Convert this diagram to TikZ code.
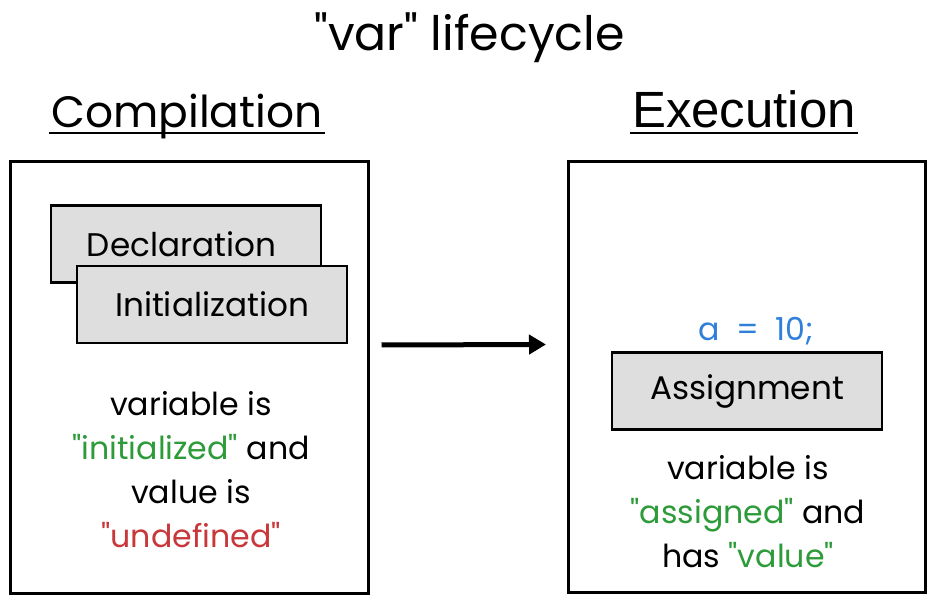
\documentclass[tikz,border=0pt]{standalone}
\usepackage{fontspec}
\setmainfont{Poppins}[Ligatures=TeXOff]
\newfontfamily\headfont{Liberation Sans}
\usetikzlibrary{arrows.meta}
\definecolor{okgreen}{HTML}{2E9B3A}
\definecolor{badred}{HTML}{C8383A}
\definecolor{codeblue}{HTML}{2F7FDB}
\definecolor{boxgray}{HTML}{DEDEDE}
\tikzset{
  frame/.style={draw, line width=0.6mm, minimum width=71.4mm, minimum height=86.2mm},
  stepbox/.style={draw, fill=boxgray, line width=0.5mm, minimum width=54mm, minimum height=15.4mm,
    font=\fontsize{18.6}{22}\selectfont},
  heading/.style={inner sep=0pt, font=\fontsize{25}{30}\selectfont},
  note/.style={align=center, font=\fontsize{18}{25}\selectfont},
  flow/.style={line width=1mm, -{Triangle[length=3.4mm, width=3.8mm]}},
  underline/.style={line width=0.45mm}
}
\begin{document}
\begin{tikzpicture}[x=0.2mm, y=-0.2mm]
  \useasboundingbox (0,0) rectangle (939,600);
  % headings
  \node[heading, anchor=base, font=\fontsize{27}{32}\selectfont] (title) at (469.5,51) {"var" lifecycle};
  \node[heading, anchor=base] (compHead) at (187,128) {Compilation};
  \node[heading, anchor=base, font=\headfont\fontsize{29}{34}\selectfont] (execHead) at (744,128) {Execution};
  \draw[underline] ([xshift=-0.4mm,yshift=-1mm]compHead.base west) -- ([xshift=0.4mm,yshift=-1mm]compHead.base east);
  \draw[underline] ([xshift=-0.4mm,yshift=-1mm]execHead.base west) -- ([xshift=0.4mm,yshift=-1mm]execHead.base east);
  % frames
  \node[frame] (compFrame) at (189.5,377.5) {};
  \node[frame] (execFrame) at (747,377) {};
  % compilation steps
  \node[stepbox, text width=39.6mm, inner xsep=7.2mm, align=left] (decl) at (186,244) {Declaration};
  \node[stepbox] (init) at (212,304.5) {Initialization};
  \node[note] (compNote) at (191,470) {variable is\\
    \textcolor{okgreen}{"initialized"} and\\
    value is\\
    \textcolor{badred}{"undefined"}};
  % execution step
  \node[font=\fontsize{18}{22}\selectfont, text=codeblue] (code) at (756,331) {a\hspace{4.5pt} = \hspace{4.5pt}10;};
  \node[stepbox] (assign) at (747,391) {Assignment};
  \node[note] (execNote) at (748,512) {variable is\\
    \textcolor{okgreen}{"assigned"} and\\
    has \textcolor{okgreen}{"value"}};
  % compilation -> execution
  \draw[flow] ([xshift=2.4mm,yshift=6.5mm]compFrame.east) -- ([xshift=-4.2mm,yshift=6.5mm]execFrame.west);
\end{tikzpicture}
\end{document}
